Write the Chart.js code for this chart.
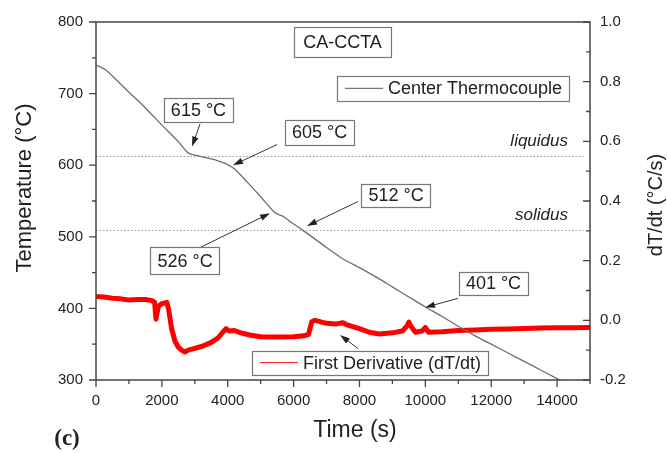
<!DOCTYPE html>
<html>
<head>
<meta charset="utf-8">
<script src="https://cdn.jsdelivr.net/npm/chart.js@4.4.0/dist/chart.umd.min.js"></script>
<style>
    body { margin: 0; background: #fff; }
    #wrap { width: 667px; height: 453px; }
</style>
</head>
<body>
<div id="wrap"><canvas id="chart" width="667" height="453"></canvas></div>
<script>
// center thermocouple temperature (left axis)
const tempTimes = [0, 300, 600, 1000, 1500, 2000, 2500, 2800, 3000, 3500, 3900, 4200, 4600, 5000, 5400, 5550, 5700, 5900, 6250, 6500, 7000, 7500, 8000, 8500, 9000, 9500, 10000, 10500, 11000, 11500, 12000, 12500, 13000, 13500, 14000, 14100];
const tempValues = [740, 733, 720, 702, 680, 656, 633, 617, 614, 609, 603, 595, 576, 556, 535, 531, 528, 521, 510, 502, 485, 469, 457, 444, 430, 416, 402, 389, 375, 362, 350, 338, 326, 314, 302, 300];

// first derivative dT/dt (right axis)
const derivTimes = [0, 250, 500, 750, 1000, 1250, 1500, 1700, 1780, 1820, 1850, 1900, 2000, 2100, 2150, 2200, 2300, 2400, 2500, 2600, 2700, 2800, 3000, 3250, 3500, 3700, 3850, 3950, 4050, 4200, 4400, 4700, 5000, 5500, 6000, 6300, 6450, 6550, 6650, 7000, 7300, 7500, 7600, 8000, 8300, 8600, 9000, 9300, 9450, 9500, 9550, 9700, 9900, 10000, 10100, 10500, 11000, 11500, 12000, 12500, 13000, 13500, 14000, 14500, 15000];
const derivValues = [0.080, 0.078, 0.074, 0.072, 0.068, 0.070, 0.070, 0.066, 0.060, 0.004, 0.022, 0.048, 0.056, 0.058, 0.060, 0.040, -0.030, -0.070, -0.090, -0.100, -0.106, -0.100, -0.094, -0.086, -0.074, -0.060, -0.040, -0.028, -0.036, -0.034, -0.042, -0.050, -0.055, -0.056, -0.055, -0.052, -0.048, -0.005, 0.000, -0.010, -0.012, -0.008, -0.014, -0.028, -0.040, -0.046, -0.042, -0.036, -0.018, -0.006, -0.018, -0.040, -0.036, -0.024, -0.040, -0.038, -0.034, -0.032, -0.030, -0.029, -0.027, -0.026, -0.025, -0.025, -0.024];

const xTicks = [0, 2000, 4000, 6000, 8000, 10000, 12000, 14000];
const tempTicks = [300, 400, 500, 600, 700, 800];
const derivTicks = [-0.2, 0.0, 0.2, 0.4, 0.6, 0.8, 1.0];

const liquidusTemp = 613;
const solidusTemp = 510;

// annotation boxes, placed in (time, temperature) units
const labelBoxes = [
    { text: 'CA-CCTA', t: 7485, T: 772.6, padX: 9, h: 30 },
    { text: '615 °C', t: 3112, T: 676.7, padX: 7, h: 24 },
    { text: '605 °C', t: 6787, T: 645.9, padX: 7, h: 25 },
    { text: '512 °C', t: 9110, T: 558, padX: 7, h: 23 },
    { text: '526 °C', t: 2703, T: 466.4, padX: 7, h: 27 },
    { text: '401 °C', t: 12070, T: 435, padX: 7, h: 23 }
];
const arrows = [
    { from: [3158, 657.5], to: [2915, 626] },
    { from: [5496, 628.8], to: [4160, 600] },
    { from: [7956, 549.3], to: [6407, 515] },
    { from: [3158, 484.9], to: [5284, 532.9] },
    { from: [10992, 414], to: [9990, 401.4] },
    { from: [7956, 343.8], to: [7409, 363] }
];
const legendBoxes = [
    { text: 'Center Thermocouple', color: '#777', lw: 1.2, t: 7318, T: 724.7, h: 25 },
    { text: 'First Derivative (dT/dt)', color: '#ff2020', lw: 1, t: 4737, T: 341.1, h: 24 }
];

const FONT = '"Liberation Sans", Arial, sans-serif';
const INK = '#222';

function midpoints(arr) {
    const out = [];
    for (let i = 0; i < arr.length - 1; i++) out.push((arr[i] + arr[i + 1]) / 2);
    return out;
}

function arrowLine(ctx, x1, y1, x2, y2) {
    const ang = Math.atan2(y2 - y1, x2 - x1);
    const len = 10, hw = 3.2;
    ctx.beginPath();
    ctx.moveTo(x1, y1);
    ctx.lineTo(x2 - Math.cos(ang) * len * 0.8, y2 - Math.sin(ang) * len * 0.8);
    ctx.stroke();
    ctx.beginPath();
    ctx.moveTo(x2, y2);
    ctx.lineTo(x2 - Math.cos(ang) * len - Math.sin(ang) * hw, y2 - Math.sin(ang) * len + Math.cos(ang) * hw);
    ctx.lineTo(x2 - Math.cos(ang) * len + Math.sin(ang) * hw, y2 - Math.sin(ang) * len - Math.cos(ang) * hw);
    ctx.closePath();
    ctx.fill();
}

const decorPlugin = {
    id: 'decor',
    beforeDatasetsDraw(chart) {
        const { ctx, chartArea } = chart;
        const xs = chart.scales.x, ys = chart.scales.y;
        ctx.save();
        ctx.strokeStyle = '#999';
        ctx.lineWidth = 1;
        ctx.setLineDash([1.5, 2]);
        [liquidusTemp, solidusTemp].forEach(T => {
            const y = Math.round(ys.getPixelForValue(T)) + 0.5;
            ctx.beginPath();
            ctx.moveTo(chartArea.left, y);
            ctx.lineTo(xs.getPixelForValue(14800), y);
            ctx.stroke();
        });
        ctx.restore();
    },
    afterDraw(chart) {
        const { ctx, chartArea } = chart;
        const xs = chart.scales.x, ys = chart.scales.y, y1 = chart.scales.y1;
        const L = chartArea.left, R = chartArea.right, Tp = chartArea.top, B = chartArea.bottom;
        ctx.save();

        // frame
        ctx.strokeStyle = '#444';
        ctx.lineWidth = 1.5;
        ctx.strokeRect(L, Tp, R - L, B - Tp);

        // tick marks
        ctx.lineWidth = 1.3;
        ctx.beginPath();
        xTicks.forEach(v => { const x = xs.getPixelForValue(v); ctx.moveTo(x, B); ctx.lineTo(x, B + 7); });
        midpoints(xTicks).concat([15000]).forEach(v => { const x = xs.getPixelForValue(v); ctx.moveTo(x, B); ctx.lineTo(x, B + 4); });
        tempTicks.forEach(v => { const y = ys.getPixelForValue(v); ctx.moveTo(L, y); ctx.lineTo(L - 7, y); });
        midpoints(tempTicks).forEach(v => { const y = ys.getPixelForValue(v); ctx.moveTo(L, y); ctx.lineTo(L - 4, y); });
        derivTicks.forEach(v => { const y = y1.getPixelForValue(v); ctx.moveTo(R, y); ctx.lineTo(R - 7, y); });
        midpoints(derivTicks).forEach(v => { const y = y1.getPixelForValue(v); ctx.moveTo(R, y); ctx.lineTo(R - 4, y); });
        ctx.stroke();

        // axis titles
        ctx.fillStyle = INK;
        ctx.textAlign = 'center';
        ctx.textBaseline = 'middle';
        ctx.font = '23px ' + FONT;
        ctx.fillText('Time (s)', 355, 431);
        ctx.save();
        ctx.translate(25, 188);
        ctx.rotate(-Math.PI / 2);
        ctx.font = '22px ' + FONT;
        ctx.fillText('Temperature (°C)', 0, 0);
        ctx.restore();
        ctx.save();
        ctx.translate(656, 205);
        ctx.rotate(-Math.PI / 2);
        ctx.font = '20px ' + FONT;
        ctx.fillText('dT/dt (°C/s)', 0, 0);
        ctx.restore();

        ctx.font = 'bold 23px "Liberation Serif", "Times New Roman", serif';
        ctx.fillText('(c)', 67, 439);

        // liquidus / solidus
        ctx.font = 'italic 17px ' + FONT;
        ctx.textAlign = 'right';
        ctx.fillText('liquidus', xs.getPixelForValue(14332), ys.getPixelForValue(634));
        ctx.fillText('solidus', xs.getPixelForValue(14332), ys.getPixelForValue(530));

        // arrows
        ctx.strokeStyle = '#333';
        ctx.fillStyle = '#222';
        ctx.lineWidth = 1;
        arrows.forEach(a => {
            arrowLine(ctx,
                xs.getPixelForValue(a.from[0]), ys.getPixelForValue(a.from[1]),
                xs.getPixelForValue(a.to[0]), ys.getPixelForValue(a.to[1]));
        });

        // label boxes
        ctx.font = '18px ' + FONT;
        ctx.textAlign = 'center';
        labelBoxes.forEach(b => {
            const cx = xs.getPixelForValue(b.t), cy = ys.getPixelForValue(b.T);
            const w = ctx.measureText(b.text).width + b.padX * 2;
            ctx.fillStyle = '#fff';
            ctx.fillRect(cx - w / 2, cy - b.h / 2, w, b.h);
            ctx.strokeStyle = '#777';
            ctx.lineWidth = 1.2;
            ctx.strokeRect(Math.round(cx - w / 2) + 0.5, Math.round(cy - b.h / 2) + 0.5, Math.round(w), b.h);
            ctx.fillStyle = INK;
            ctx.fillText(b.text, cx, cy + 1);
        });

        // legend boxes
        ctx.textAlign = 'left';
        legendBoxes.forEach(b => {
            const x0 = xs.getPixelForValue(b.t), y0 = ys.getPixelForValue(b.T);
            const w = 51 + ctx.measureText(b.text).width + 7;
            ctx.fillStyle = '#fff';
            ctx.fillRect(x0, y0, w, b.h);
            ctx.strokeStyle = '#777';
            ctx.lineWidth = 1.2;
            ctx.strokeRect(Math.round(x0) + 0.5, Math.round(y0) + 0.5, Math.round(w), b.h);
            ctx.strokeStyle = b.color;
            ctx.lineWidth = b.lw;
            ctx.beginPath();
            ctx.moveTo(x0 + 8, y0 + b.h / 2);
            ctx.lineTo(x0 + 46, y0 + b.h / 2);
            ctx.stroke();
            ctx.fillStyle = INK;
            ctx.fillText(b.text, x0 + 51, y0 + b.h / 2 + 1);
        });

        ctx.restore();
    }
};

const tickFont = { family: FONT, size: 15 };

new Chart(document.getElementById('chart'), {
    type: 'line',
    data: {
        datasets: [
            {
                label: 'Center Thermocouple',
                data: tempTimes.map((t, i) => ({ x: t, y: tempValues[i] })),
                yAxisID: 'y',
                borderColor: '#6e6e6e',
                borderWidth: 1.3,
                pointRadius: 0,
                tension: 0.2
            },
            {
                label: 'First Derivative (dT/dt)',
                data: derivTimes.map((t, i) => ({ x: t, y: derivValues[i] })),
                yAxisID: 'y1',
                borderColor: '#ff0000',
                borderWidth: 5,
                borderJoinStyle: 'round',
                pointRadius: 0,
                tension: 0
            }
        ]
    },
    options: {
        responsive: false,
        animation: false,
        devicePixelRatio: 1,
        layout: { padding: { top: 15, left: 0, right: 0, bottom: 0 } },
        plugins: {
            legend: { display: false },
            tooltip: { enabled: false }
        },
        scales: {
            x: {
                type: 'linear',
                min: 0,
                max: 15000,
                grid: { display: false, drawTicks: false },
                border: { display: false },
                ticks: { font: tickFont, color: INK, padding: 12, maxRotation: 0, autoSkip: false, callback: v => String(v) },
                afterBuildTicks: s => { s.ticks = xTicks.map(v => ({ value: v })); },
                afterFit: s => { s.height = 73; }
            },
            y: {
                position: 'left',
                min: 300,
                max: 800,
                grid: { display: false, drawTicks: false },
                border: { display: false },
                ticks: { font: tickFont, color: INK, padding: 13, autoSkip: false, callback: v => String(v) },
                afterBuildTicks: s => { s.ticks = tempTicks.map(v => ({ value: v })); },
                afterFit: s => { s.width = 96; }
            },
            y1: {
                position: 'right',
                min: -0.2,
                max: 1.0,
                grid: { display: false, drawTicks: false },
                border: { display: false },
                ticks: { font: tickFont, color: INK, padding: 10, autoSkip: false, callback: v => v.toFixed(1) },
                afterBuildTicks: s => { s.ticks = derivTicks.map(v => ({ value: v })); },
                afterFit: s => { s.width = 77; }
            }
        }
    },
    plugins: [decorPlugin]
});
</script>
</body>
</html>
